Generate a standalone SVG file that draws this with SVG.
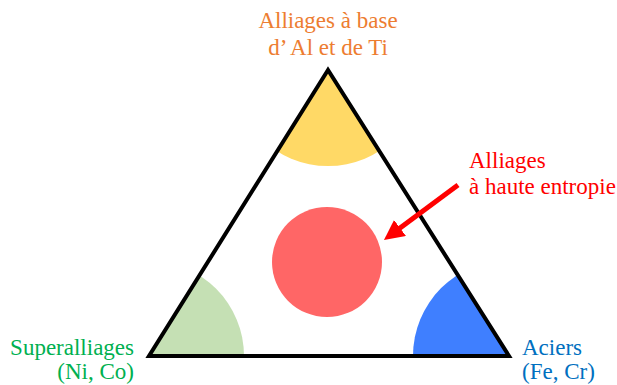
<svg xmlns="http://www.w3.org/2000/svg" width="617" height="385" viewBox="0 0 617 385">
<style>
.o{fill:#ED7D31}.r{fill:#FF0000}.g{fill:#00B050}.b{fill:#0070C0}
</style>
<defs>
<clipPath id="tri"><polygon points="328,70 149,356 509,356"/></clipPath>
<marker id="ah" markerWidth="4" markerHeight="4" refX="1" refY="2" orient="auto" markerUnits="strokeWidth"><path d="M0,0 L4,2 L0,4 z" fill="#FF0000"/></marker>
</defs>
<g id="sectors" clip-path="url(#tri)">
<circle cx="328" cy="70" r="96" fill="#FFD966"/>
<circle cx="149" cy="356" r="95" fill="#C5E0B4"/>
<circle cx="509" cy="356" r="96" fill="#3F7FFF"/>
</g>
<g id="triangle"><polygon points="328,70 149,356 509,356" fill="none" stroke="#000" stroke-width="4" stroke-linejoin="miter"/></g>
<g id="hea"><circle cx="327" cy="262" r="55" fill="#FF6666"/></g>
<g id="connectors"><line x1="458" y1="185" x2="396" y2="231" stroke="#FF0000" stroke-width="5" marker-end="url(#ah)"/></g>
<g font-family="Liberation Serif, Times New Roman, serif" font-size="23">
<g id="label-top"><text class="o" x="328" y="28" text-anchor="middle">Alliages à base</text><text class="o" x="328" y="55" text-anchor="middle">d’ Al et de Ti</text></g>
<g id="label-hea"><text class="r" x="469" y="168">Alliages</text><text class="r" x="469" y="194">à haute entropie</text></g>
<g id="label-left"><text class="g" x="134" y="355" text-anchor="end">Superalliages</text><text class="g" x="134" y="379" text-anchor="end">(Ni, Co)</text></g>
<g id="label-right"><text class="b" x="522" y="355">Aciers</text><text class="b" x="522" y="379">(Fe, Cr)</text></g>
</g>
</svg>
